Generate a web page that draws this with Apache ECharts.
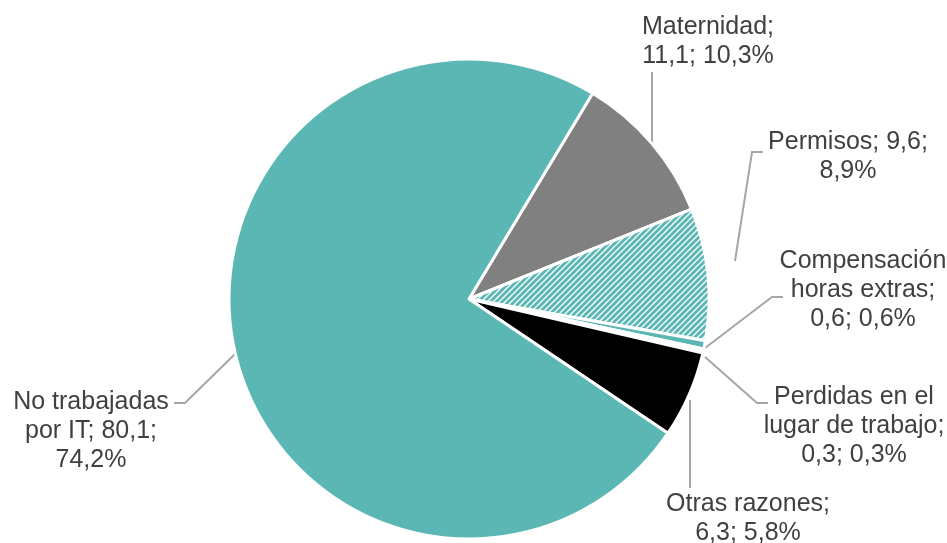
<!DOCTYPE html>
<html>
<head>
<meta charset="utf-8">
<script src="https://cdn.jsdelivr.net/npm/echarts@6/dist/echarts.min.js"></script>
<style>html,body{margin:0;padding:0;background:#fff}#c{width:947px;height:543px}</style>
</head>
<body>
<div id="c"></div>
<script>
const categories = ["Maternidad", "Permisos", "Compensación\nhoras extras", "Perdidas en el\nlugar de trabajo", "Otras razones", "No trabajadas\npor IT"];
const values = [11.1, 9.6, 0.6, 0.3, 6.3, 80.1];
const labelTemplates = ["{n};\n{v}; {p}%", "{n}; {v};\n{p}%", "{n};\n{v}; {p}%", "{n};\n{v}; {p}%", "{n};\n{v}; {p}%", "{n}; {v};\n{p}%"];

// label layout (positions only, not data)
const labelPos = [[708, 42], [848, 157], [863, 290], [854, 426], [748, 519], [91, 431]];
const leaderPts = [
  [[652, 145], [652, 72]],
  [[735, 261], [752, 152], [763, 152]],
  [[705, 348], [772, 297], [783, 297]],
  [[705, 357], [757, 403], [768, 403]],
  [[690, 400], [690, 488]],
  [[235, 354], [185, 403], [174, 403]]
];

const teal = '#5bb7b3';
function hatch() {
  const s = 6;
  const cv = document.createElement('canvas');
  cv.width = s; cv.height = s;
  const ctx = cv.getContext('2d');
  ctx.fillStyle = '#fff'; ctx.fillRect(0, 0, s, s);
  ctx.strokeStyle = teal; ctx.lineWidth = 3;
  ctx.beginPath();
  for (let k = -1; k <= 1; k++) {
    ctx.moveTo(k * s - 1, s + 1); ctx.lineTo(k * s + s + 1, -1);
  }
  ctx.stroke();
  return cv;
}
const colors = ['#808080', {image: hatch(), repeat: 'repeat'}, teal, '#ffffff', '#000000', teal];

const total = values.reduce((a, b) => a + b, 0);
const fmt = v => v.toFixed(1).replace('.', ',');
const chart = echarts.init(document.getElementById('c'), null, {renderer: 'canvas'});
chart.setOption({
  animation: false,
  series: [{
    type: 'pie',
    center: [469, 299],
    radius: 240,
    startAngle: 59,
    clockwise: true,
    itemStyle: {borderColor: '#fff', borderWidth: 3},
    label: {
      show: true,
      fontFamily: 'Liberation Sans, Arial, sans-serif',
      fontSize: 25,
      lineHeight: 29,
      color: '#404040',
      align: 'center',
      formatter: p => labelTemplates[p.dataIndex]
        .replace('{n}', categories[p.dataIndex])
        .replace('{v}', fmt(p.value))
        .replace('{p}', fmt(p.value / total * 100))
    },
    labelLine: {show: true, lineStyle: {color: '#a6a6a6', width: 2}, length: 10, length2: 12},
    labelLayout: p => ({
      x: labelPos[p.dataIndex][0], y: labelPos[p.dataIndex][1],
      align: 'center', verticalAlign: 'middle',
      labelLinePoints: leaderPts[p.dataIndex]
    }),
    data: categories.map((c, i) => ({name: c, value: values[i], itemStyle: {color: colors[i]}}))
  }]
});
</script>
</body>
</html>
